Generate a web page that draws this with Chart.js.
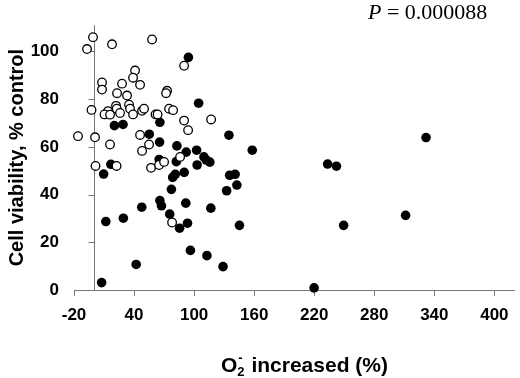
<!DOCTYPE html>
<html>
<head>
<meta charset="utf-8">
<script src="https://cdn.jsdelivr.net/npm/chart.js@4.4.0/dist/chart.umd.min.js"></script>
<style>
html, body { margin: 0; padding: 0; background: #fff; }
#wrap { width: 520px; height: 378px; }
</style>
</head>
<body>
<div id="wrap"><canvas id="scatter"></canvas></div>
<script>
// tick labels
const xTicks = [-20, 40, 100, 160, 220, 280, 340, 400];
const yTicks = [0, 20, 40, 60, 80, 100];

// open circles: O2- increase (%) / cell viability (% control)
const openX = [-1, -7, 18, 58, 90, 41, 39, 8, 8, 28, 46, 23, 33, 73, 72, -2.5, 14, 10.5, 16, 22, 22.7, 26, 35, 36, 39, 48, 50, 61.5, 63.5, 75, 79, 90, 94, 117, -16, 1, 1.5, 22.5, 16, 46, 48, 55, 57, 65, 70, 86, 78];
const openY = [106, 101, 103, 105, 94, 92, 89, 87, 84, 86.5, 86, 82.5, 81.5, 83.5, 82.5, 75.5, 75, 73.6, 73.5, 77.2, 76, 74.2, 77.7, 76, 73.6, 75.1, 76, 73.6, 73.6, 76, 75.4, 71, 67, 71.5, 64.5, 64, 52, 52, 61, 65, 58.3, 61, 51.2, 52.4, 53.7, 55.8, 28.3];

// filled circles
const filledX = [94.3, 104.5, 20.4, 29, 65.8, 55.2, 65.5, 82.8, 92.1, 102.5, 109.8, 112.1, 115.7, 103, 134.8, 158.1, 16.8, 9.6, 65.1, 82.2, 90.1, 81.2, 78.6, 77.3, 135.5, 141, 142.7, 132.5, 65.8, 67.4, 47.7, 91.7, 116.7, 29.3, 11.8, 75.6, 85.5, 93.4, 145.3, 96.3, 112.8, 128.9, 42.1, 7.6, 233.4, 242.2, 249.4, 219.9, 311.3, 331.7];
const filledY = [97.5, 78.3, 68.9, 69.4, 70.3, 65.3, 62, 60.4, 57.8, 58.6, 55.8, 54.5, 53.6, 52.4, 64.9, 58.6, 52.7, 48.6, 54.7, 53.8, 49.3, 48.5, 47.2, 42.2, 48.1, 48.5, 44, 41.6, 37.5, 35.3, 34.7, 36.4, 34.3, 30.1, 28.7, 31.8, 25.9, 28, 27.1, 16.6, 14.4, 9.8, 10.7, 3.1, 52.8, 51.9, 27.1, 0.9, 31.3, 63.9];

const pValue = '0.000088';

const axisGray = '#777';
const tickFont = { family: 'Liberation Sans', weight: 'bold', size: 17 };

// y axis crosses at x = 0, titles and P value
const annotate = {
  id: 'annotate',
  beforeDatasetsDraw(chart) {
    const { ctx, chartArea, scales } = chart;
    const x0 = Math.round(scales.x.getPixelForValue(0)) + 0.5;
    ctx.save();
    ctx.strokeStyle = axisGray;
    ctx.lineWidth = 1;
    ctx.beginPath();
    ctx.moveTo(x0, chartArea.top);
    ctx.lineTo(x0, chartArea.bottom);
    yTicks.forEach(v => {
      const y = Math.round(scales.y.getPixelForValue(v)) + 0.5;
      ctx.moveTo(x0 - 6, y);
      ctx.lineTo(x0, y);
    });
    ctx.stroke();
    ctx.restore();
  },
  afterDraw(chart) {
    const { ctx } = chart;
    ctx.save();
    ctx.fillStyle = '#000';
    ctx.textBaseline = 'alphabetic';
    ctx.textAlign = 'left';

    // x title: O2- increased (%)
    const big = 'bold 21px "Liberation Sans"';
    const small = 'bold 13px "Liberation Sans"';
    ctx.font = big;
    const wO = ctx.measureText('O').width;
    const wRest = ctx.measureText(' increased (%)').width;
    ctx.font = small;
    const w2 = ctx.measureText('2').width;
    const total = wO + w2 + 1 + wRest;
    let x = 304.5 - total / 2;
    const base = 371.5;
    ctx.font = big;
    ctx.fillText('O', x, base);
    x += wO;
    ctx.font = small;
    ctx.fillText('2', x, base + 4);
    ctx.fillText('-', x + 1, base - 10);
    x += w2 + 1;
    ctx.font = big;
    ctx.fillText(' increased (%)', x, base);

    // P value
    ctx.font = 'italic 22px "Liberation Serif"';
    ctx.fillText('P', 368, 18.5);
    const wP = ctx.measureText('P').width;
    ctx.font = '22px "Liberation Serif"';
    ctx.fillText(' = ' + pValue, 368 + wP, 18.5);
    ctx.restore();
  }
};

const openPoints = openX.map((v, i) => ({ x: v, y: openY[i] }));
const filledPoints = filledX.map((v, i) => ({ x: v, y: filledY[i] }));

new Chart(document.getElementById('scatter'), {
  type: 'scatter',
  data: {
    datasets: [
      {
        label: 'open',
        data: openPoints,
        pointRadius: 4.3,
        pointBackgroundColor: '#fff',
        pointBorderColor: '#000',
        pointBorderWidth: 1.3,
        clip: false
      },
      {
        label: 'filled',
        data: filledPoints,
        pointRadius: 4.8,
        pointBackgroundColor: '#000',
        pointBorderColor: '#000',
        pointBorderWidth: 0,
        clip: false
      }
    ]
  },
  options: {
    responsive: true,
    maintainAspectRatio: false,
    animation: false,
    layout: { padding: 0 },
    plugins: {
      legend: { display: false },
      tooltip: { enabled: false }
    },
    scales: {
      x: {
        type: 'linear',
        min: -20,
        max: 420,
        afterBuildTicks: s => { s.ticks = xTicks.map(v => ({ value: v })); },
        afterFit: s => { s.height = 88; },
        grid: { display: true, drawOnChartArea: false, drawTicks: true, tickLength: 6, color: axisGray },
        border: { display: true, color: axisGray, width: 1 },
        ticks: { font: tickFont, color: '#000', padding: 9, maxRotation: 0, autoSkip: false }
      },
      y: {
        type: 'linear',
        min: 0,
        max: 111,
        afterBuildTicks: s => { s.ticks = yTicks.map(v => ({ value: v })); },
        afterFit: s => { s.width = 74; },
        grid: { display: false, drawTicks: false },
        border: { display: false },
        ticks: { font: tickFont, color: '#000', padding: 15 },
        title: {
          display: true,
          text: 'Cell viability, % control',
          color: '#000',
          font: { family: 'Liberation Sans', weight: 'bold', size: 20 },
          padding: { top: 5, bottom: 0 }
        }
      }
    }
  },
  plugins: [annotate]
});
</script>
</body>
</html>
